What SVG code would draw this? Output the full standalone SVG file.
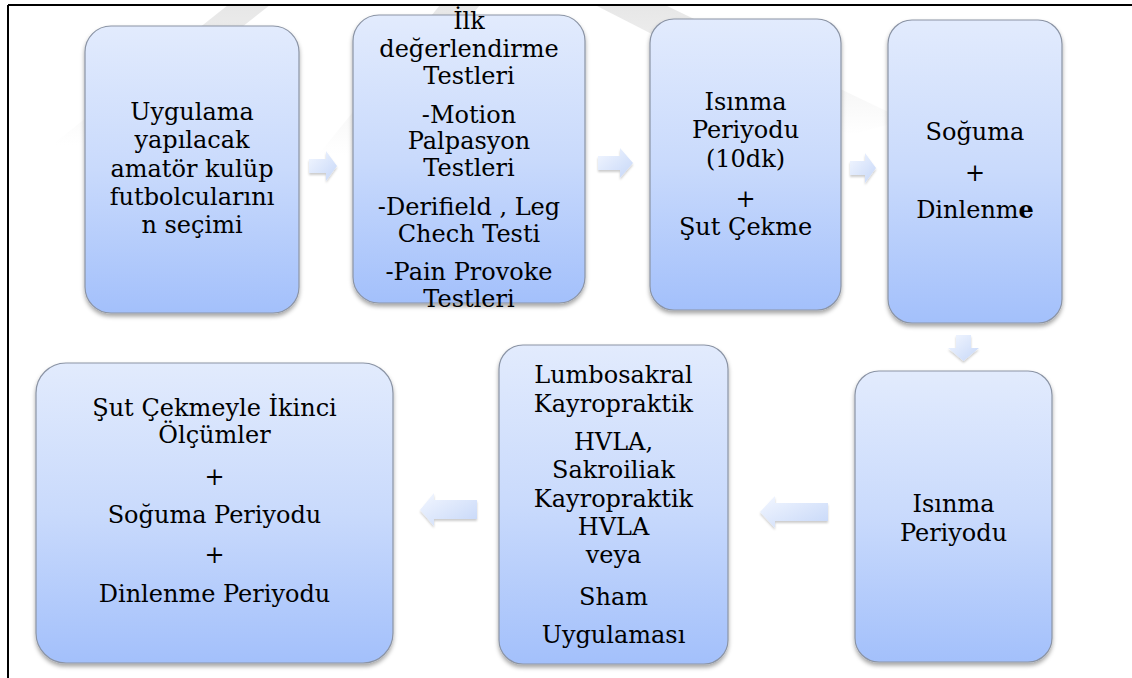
<svg xmlns="http://www.w3.org/2000/svg" width="1132" height="678" viewBox="0 0 1132 678">
<defs>
<linearGradient id="boxg" x1="0" y1="0" x2="0" y2="1">
<stop offset="0" stop-color="#e2ebfd"/>
<stop offset="0.5" stop-color="#c9dafc"/>
<stop offset="1" stop-color="#a3c0fb"/>
</linearGradient>
<linearGradient id="arrg" x1="0" y1="0" x2="1" y2="1">
<stop offset="0" stop-color="#f3f7ff"/>
<stop offset="1" stop-color="#c6d7f8"/>
</linearGradient>
<linearGradient id="wm" x1="0" y1="0" x2="0" y2="1">
<stop offset="0" stop-color="#e4e4e4" stop-opacity="0.9"/>
<stop offset="1" stop-color="#e4e4e4" stop-opacity="0"/>
</linearGradient>
<filter id="sh" x="-10%" y="-10%" width="120%" height="120%">
<feDropShadow dx="0" dy="3" stdDeviation="2" flood-color="#000" flood-opacity="0.35"/>
</filter>
<filter id="ash" x="-20%" y="-20%" width="140%" height="140%">
<feDropShadow dx="0" dy="2" stdDeviation="1.2" flood-color="#000" flood-opacity="0.2"/>
</filter>
</defs>
<style>
.box{fill:url(#boxg);stroke:#8b94a5;stroke-width:1.2;filter:url(#sh)}
.arr{fill:url(#arrg);filter:url(#ash)}
text{font-family:"DejaVu Serif","Liberation Serif",serif;font-size:24px;fill:#000;text-anchor:middle}
</style>
<rect x="0" y="0" width="1132" height="678" fill="#fff"/>
<g id="watermark">
<polygon points="228,5 270,5 92,145 52,145" fill="url(#wm)"/>
<polygon points="440,5 480,5 355,155 318,155" fill="url(#wm)"/>
<polygon points="595,5 665,5 905,120 850,135" fill="url(#wm)"/>
</g>
<g id="frame" stroke="#000" stroke-width="2" fill="none">
<line x1="8" y1="5" x2="1132" y2="5"/>
<line x1="8" y1="5" x2="8" y2="678"/>
</g>
<g id="connectors">
<path class="arr" d="M309,159 H326 V151 L337,166 L326,181 V173 H309 Z"/>
<path class="arr" d="M598,156 H620 V148 L633,163 L620,178 V170 H598 Z"/>
<path class="arr" d="M850,161 H865 V153 L876,168 L865,183 V175 H850 Z"/>
<path class="arr" d="M956,335 H971 V348 H979 L963.5,361 L948,348 H956 Z"/>
<path class="arr" d="M828,503 H775 V496 L760,512 L775,528 V521 H828 Z"/>
<path class="arr" d="M477,500 H434 V493 L420,510 L434,526 V519 H477 Z"/>
</g>
<g id="n1">
<rect class="box" x="85" y="26" width="214" height="287" rx="26"/>
<text x="192" y="120">Uygulama</text>
<text x="192" y="148">yapılacak</text>
<text x="192" y="177">amatör kulüp</text>
<text x="192" y="205">futbolcularını</text>
<text x="192" y="233">n seçimi</text>
</g>
<g id="n2">
<rect class="box" x="353" y="15" width="232" height="288" rx="26"/>
<text x="469" y="29">İlk</text>
<text x="469" y="57">değerlendirme</text>
<text x="469" y="84">Testleri</text>
<text x="469" y="123">-Motion</text>
<text x="469" y="149">Palpasyon</text>
<text x="469" y="176">Testleri</text>
<text x="469" y="215">-Derifield , Leg</text>
<text x="469" y="242">Chech Testi</text>
<text x="469" y="280">-Pain Provoke</text>
<text x="469" y="307">Testleri</text>
</g>
<g id="n3">
<rect class="box" x="650" y="19" width="191" height="291" rx="24"/>
<text x="745.5" y="110">Isınma</text>
<text x="745.5" y="138">Periyodu</text>
<text x="745.5" y="167">(10dk)</text>
<text x="745.5" y="207">+</text>
<text x="745.5" y="235">Şut Çekme</text>
</g>
<g id="n4">
<rect class="box" x="888" y="20" width="174" height="303" rx="24"/>
<text x="975" y="140">Soğuma</text>
<text x="975" y="181">+</text>
<text x="975" y="218">Dinlenm<tspan font-weight="bold">e</tspan></text>
</g>
<g id="n5">
<rect class="box" x="855" y="371" width="197" height="291" rx="24"/>
<text x="953.5" y="512">Isınma</text>
<text x="953.5" y="541">Periyodu</text>
</g>
<g id="n6">
<rect class="box" x="499" y="345" width="229" height="319" rx="24"/>
<text x="613.5" y="383">Lumbosakral</text>
<text x="613.5" y="412">Kayropraktik</text>
<text x="613.5" y="450">HVLA,</text>
<text x="613.5" y="478">Sakroiliak</text>
<text x="613.5" y="507">Kayropraktik</text>
<text x="613.5" y="535">HVLA</text>
<text x="613.5" y="563">veya</text>
<text x="613.5" y="605">Sham</text>
<text x="613.5" y="643">Uygulaması</text>
</g>
<g id="n7">
<rect class="box" x="36" y="363" width="357" height="300" rx="30"/>
<text x="214.5" y="416">Şut Çekmeyle İkinci</text>
<text x="214.5" y="443">Ölçümler</text>
<text x="214.5" y="485">+</text>
<text x="214.5" y="523">Soğuma Periyodu</text>
<text x="214.5" y="563">+</text>
<text x="214.5" y="602">Dinlenme Periyodu</text>
</g>
</svg>
